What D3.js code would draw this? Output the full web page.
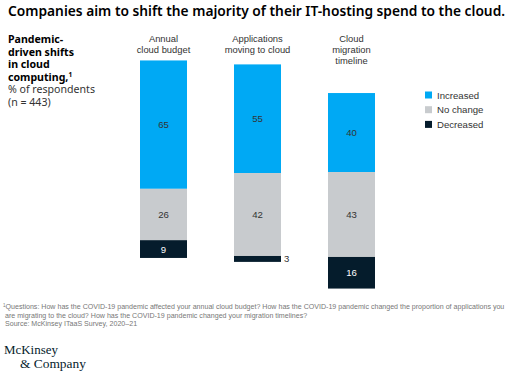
<!DOCTYPE html>
<html><head><meta charset="utf-8">
<script src="https://cdn.jsdelivr.net/npm/d3@7"></script>
<style>
html,body{margin:0;padding:0;background:#fff;}
svg{display:block;}
</style></head>
<body>
<svg id="chart" width="512" height="378"></svg>
<script>
// ---- data ----
const categories = ["Annual cloud budget", "Applications moving to cloud", "Cloud migration timeline"];
const categoryLines = [["Annual", "cloud budget"], ["Applications", "moving to cloud"], ["Cloud", "migration", "timeline"]];
const increased = [65, 55, 40];
const noChange = [26, 42, 43];
const decreased = [9, 3, 16];
const seriesNames = ["Increased", "No change", "Decreased"];
const seriesColors = ["#00A9F4", "#C8CBCE", "#051C2C"];
const labelColors = ["#333333", "#333333", "#ffffff"];

const svg = d3.select("#chart");
const sans = "'Noto Sans', 'Liberation Sans', Arial, sans-serif";
const small = "'Liberation Sans', Arial, sans-serif";

function fit(sel, target) {
  const n = sel.node();
  const w = n.getComputedTextLength();
  const fs = parseFloat(sel.attr("font-size"));
  sel.attr("font-size", (fs * target / w).toFixed(2));
}

// title
const title = svg.append("text").attr("x", 8).attr("y", 16)
  .attr("font-family", sans).attr("font-weight", 600).attr("font-size", 14)
  .attr("fill", "#000")
  .text("Companies aim to shift the majority of their IT-hosting spend to the cloud.");
fit(title, 497);

// left label
const lt = svg.append("text").attr("font-family", sans).attr("font-size", 10.6).attr("fill", "#000");
const leftLines = [
  {t: "Pandemic-", b: true}, {t: "driven shifts", b: true}, {t: "in cloud", b: true},
  {t: "computing,", b: true, sup: "1"}, {t: "% of respondents", b: false}, {t: "(n = 443)", b: false}
];
const leftY = [43, 55.5, 68, 80.5, 93, 105.5];
leftLines.forEach((l, i) => {
  lt.append("tspan").attr("x", 8).attr("y", leftY[i])
    .attr("font-weight", l.b ? 700 : 400).attr("fill", l.b ? "#000" : "#333").text(l.t);
  if (l.sup) {
    lt.append("tspan").attr("dy", -4).attr("font-size", 6.5).attr("font-weight", 700).text(l.sup);
  }
});

// scales
const x = d3.scaleBand().domain(categories).range([116.5, 398.5]).paddingInner(0.5).paddingOuter(0.25);
const y = d3.scaleLinear().domain([-100, 100]).range([214.5 - 197.5, 214.5 + 197.5]);

// category labels
categories.forEach((c, i) => {
  categoryLines[i].forEach((line, j) => {
    svg.append("text").attr("text-anchor", "middle")
      .attr("font-family", small).attr("font-size", 9.4).attr("fill", "#333")
      .attr("x", x(c) + x.bandwidth() / 2).attr("y", 42 + j * 11).text(line);
  });
});

// stacked, centred on the middle of the "No change" segment
const values = [increased, noChange, decreased];
const segs = [];
categories.forEach((c, i) => {
  const top = -(noChange[i] / 2 + increased[i]);
  let acc = top;
  values.forEach((arr, s) => {
    segs.push({cat: c, s, v: arr[i], y0: acc, y1: acc + arr[i]});
    acc += arr[i];
  });
});

svg.append("g").selectAll("rect").data(segs).join("rect")
  .attr("x", d => x(d.cat))
  .attr("width", x.bandwidth())
  .attr("y", d => y(d.y0))
  .attr("height", d => y(d.y1) - y(d.y0))
  .attr("fill", d => seriesColors[d.s]);

svg.append("g").selectAll("text").data(segs).join("text")
  .attr("font-family", small).attr("font-size", 9.6)
  .each(function(d) {
    const h = y(d.y1) - y(d.y0);
    const sel = d3.select(this);
    if (h < 12) {
      sel.attr("x", x(d.cat) + x.bandwidth() + 3).attr("y", (y(d.y0) + y(d.y1)) / 2 + 3.5)
        .attr("text-anchor", "start").attr("fill", "#333");
    } else {
      sel.attr("x", x(d.cat) + x.bandwidth() / 2).attr("y", (y(d.y0) + y(d.y1)) / 2 + 3.5)
        .attr("text-anchor", "middle").attr("fill", labelColors[d.s]);
    }
  })
  .text(d => d.v);

// legend
const lg = svg.append("g");
seriesNames.forEach((n, i) => {
  const cy = 95 + i * 14.7;
  lg.append("rect").attr("x", 425).attr("y", cy - 3.5).attr("width", 7).attr("height", 7).attr("fill", seriesColors[i]);
  lg.append("text").attr("x", 437).attr("y", cy + 3.5).attr("font-family", small).attr("font-size", 9.6)
    .attr("fill", "#333").text(n);
});

// footnote
const fn = svg.append("g").attr("font-family", small).attr("fill", "#777");
const f1 = fn.append("text").attr("x", 3).attr("y", 309).attr("font-size", 7);
f1.append("tspan").attr("font-size", 4.5).attr("dy", -2.5).text("1");
f1.append("tspan").attr("dy", 2.5).text("Questions: How has the COVID-19 pandemic affected your annual cloud budget? How has the COVID-19 pandemic changed the proportion of applications you");
fit(f1, 502);
const fs = f1.attr("font-size");
fn.append("text").attr("x", 5).attr("y", 317.5).attr("font-size", fs)
  .text("are migrating to the cloud? How has the COVID-19 pandemic changed your migration timelines?");
fn.append("text").attr("x", 5).attr("y", 326).attr("font-size", fs)
  .text("Source: McKinsey ITaaS Survey, 2020–21");

// logo
const serif = "'Liberation Serif', 'DejaVu Serif', serif";
const l1 = svg.append("text").attr("x", 4).attr("y", 354).attr("font-family", serif).attr("font-size", 13.5)
  .attr("fill", "#051C2C").text("McKinsey");
fit(l1, 54);
const l2 = svg.append("text").attr("x", 20).attr("y", 368).attr("font-family", serif).attr("font-size", 13.5)
  .attr("fill", "#051C2C").text("& Company");
fit(l2, 66);
</script>
</body></html>
